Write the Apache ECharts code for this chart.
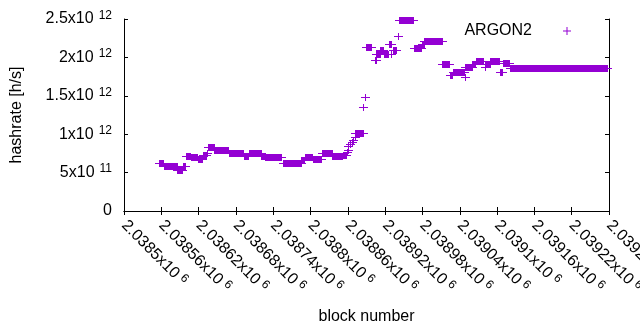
<!DOCTYPE html>
<html>
<head>
<meta charset="utf-8">
<script src="https://cdn.jsdelivr.net/npm/echarts@6/dist/echarts.min.js"></script>
<style>
  html, body { margin: 0; padding: 0; background: #fff; }
  #chart { width: 640px; height: 330px; }
</style>
</head>
<body>
<div id="chart"></div>
<script>
// 数据：每一段是连续区块里同一个算力值（图上看起来是一条粗条）
var runStart = [
  2038557, 2038564, 2038586, 2038595, 2038599, 2038607, 2038619, 2038627, 2038633, 2038635,
  2038645, 2038669, 2038693, 2038701, 2038721, 2038727, 2038755, 2038785, 2038791, 2038804,
  2038818, 2038835, 2038852, 2038858, 2038860, 2038861, 2038864, 2038866, 2038868, 2038871,
  2038872, 2038885, 2038887, 2038889, 2038903, 2038906, 2038912, 2038918, 2038926, 2038930,
  2038932, 2038941, 2038943, 2038966, 2038979, 2038983, 2039012, 2039024, 2039029, 2039048,
  2039049, 2039060, 2039066, 2039080, 2039081, 2039089, 2039104, 2039109, 2039120
];
var runEnd = [
  2038563, 2038585, 2038594, 2038598, 2038606, 2038618, 2038626, 2038632, 2038633, 2038644,
  2038668, 2038692, 2038700, 2038720, 2038726, 2038753, 2038784, 2038790, 2038803, 2038817,
  2038834, 2038851, 2038857, 2038858, 2038860, 2038861, 2038864, 2038866, 2038868, 2038871,
  2038884, 2038885, 2038887, 2038898, 2038905, 2038911, 2038917, 2038924, 2038929, 2038930,
  2038938, 2038941, 2038964, 2038977, 2038982, 2039011, 2039022, 2039028, 2039047, 2039048,
  2039059, 2039065, 2039077, 2039080, 2039088, 2039103, 2039108, 2039119, 2039276
];
var runValue = [
  0.62e12, 0.58e12, 0.54e12, 0.58e12, 0.715e12, 0.70e12, 0.675e12, 0.73e12, 0.75e12, 0.83e12,
  0.79e12, 0.76e12, 0.72e12, 0.76e12, 0.72e12, 0.70e12, 0.63e12, 0.66e12, 0.70e12, 0.68e12,
  0.75e12, 0.715e12, 0.73e12, 0.77e12, 0.80e12, 0.84e12, 0.87e12, 0.90e12, 0.92e12, 0.97e12,
  1.02e12, 1.36e12, 1.49e12, 2.13e12, 1.96e12, 2.05e12, 2.10e12, 2.05e12, 2.18e12, 2.04e12,
  2.09e12, 2.28e12, 2.49e12, 2.12e12, 2.17e12, 2.21e12, 1.92e12, 1.77e12, 1.81e12, 1.74e12,
  1.87e12, 1.92e12, 1.95e12, 1.88e12, 1.92e12, 1.95e12, 1.81e12, 1.93e12, 1.865e12
];

// 刻度文字
var xTickBase = ['2.0385', '2.03856', '2.03862', '2.03868', '2.03874', '2.0388', '2.03886',
  '2.03892', '2.03898', '2.03904', '2.0391', '2.03916', '2.03922', '2.03928'];
var xTickExp = '6';
var yTickBase = ['0', '5x10', '1x10', '1.5x10', '2x10', '2.5x10'];
var yTickExp = ['', '11', '12', '12', '12', '12'];

var xMin = 2038500, xMax = 2039280, xStep = 60;
var yMin = 0, yMax = 2.5e12, yStep = 5e11;
var purple = '#9400d3';
var font = 'Liberation Sans, Arial, sans-serif';

var richX = {
  a: { fontSize: 16, fontFamily: font, color: '#000', lineHeight: 19 },
  s: { fontSize: 12, fontFamily: font, color: '#000', lineHeight: 12, verticalAlign: 'top', padding: [0, 0, 0, 4] }
};
var richY = {
  a: { fontSize: 16, fontFamily: font, color: '#000', lineHeight: 19 },
  s: { fontSize: 12, fontFamily: font, color: '#000', lineHeight: 12, verticalAlign: 'top', padding: [0, 0, 0, 5] }
};

var runs = runStart.map(function (s, i) { return [s, runEnd[i], runValue[i]]; });

// 一段连续的 + 号叠在一起：竖线连成块，横线两头伸出去
function renderRun(params, api) {
  var v = api.value(2);
  var p0 = api.coord([api.value(0), v]);
  var p1 = api.coord([api.value(1), v]);
  var x0 = Math.round(p0[0]), x1 = Math.round(p1[0]), y = Math.round(p0[1]);
  var color = api.visual('color');
  return {
    type: 'group',
    children: [
      { type: 'rect', shape: { x: x0, y: y - 3, width: x1 - x0 + 1, height: 7 }, style: { fill: color } },
      { type: 'rect', shape: { x: x0 - 4, y: y, width: x1 - x0 + 9, height: 1 }, style: { fill: color } }
    ]
  };
}

var tickStyle = { show: true, inside: true, length: 4, lineStyle: { color: '#000', width: 1 } };
var lineStyle = { show: true, lineStyle: { color: '#000', width: 1 } };

var chart = echarts.init(document.getElementById('chart'), null, { renderer: 'canvas' });
var option = {
  animation: false,
  backgroundColor: '#fff',
  grid: { left: 124, top: 19, right: 31, bottom: 119, containLabel: false, outerBoundsMode: 'none' },
  legend: {
    right: 69, top: 23, padding: 0,
    align: 'right',
    itemWidth: 8, itemHeight: 8,
    textStyle: { fontSize: 16, fontFamily: font, color: '#000', padding: [0, 26, 0, 0] },
    data: [{ name: 'ARGON2', icon: 'path://M0,3.5H8V4.5H0Z M3.5,0H4.5V8H3.5Z' }]
  },
  xAxis: [{
    type: 'value', position: 'bottom', min: xMin, max: xMax, interval: xStep,
    axisLine: lineStyle, axisTick: tickStyle, splitLine: { show: false },
    name: 'block number', nameLocation: 'middle', nameGap: 98,
    nameTextStyle: { fontSize: 16, fontFamily: font, color: '#000' },
    axisLabel: {
      rotate: -45, margin: 12, hideOverlap: false,
      formatter: function (val) {
        var i = Math.round((val - xMin) / xStep);
        return '{a|' + xTickBase[i] + 'x10}{s|' + xTickExp + '}';
      },
      rich: richX
    }
  }, {
    type: 'value', position: 'top', min: xMin, max: xMax, interval: xStep,
    axisLine: lineStyle, axisTick: tickStyle, splitLine: { show: false },
    axisLabel: { show: false }
  }],
  yAxis: [{
    type: 'value', position: 'left', min: yMin, max: yMax, interval: yStep,
    axisLine: lineStyle, axisTick: tickStyle, splitLine: { show: false },
    name: 'hashrate [h/s]', nameLocation: 'middle', nameGap: 99, nameRotate: 90,
    nameTextStyle: { fontSize: 16, fontFamily: font, color: '#000' },
    axisLabel: {
      margin: 12,
      formatter: function (val) {
        var i = Math.round((val - yMin) / yStep);
        if (!yTickExp[i]) return '{a|' + yTickBase[i] + '}';
        return '{a|' + yTickBase[i] + '}{s|' + yTickExp[i] + '}';
      },
      rich: richY
    }
  }, {
    type: 'value', position: 'right', min: yMin, max: yMax, interval: yStep,
    axisLine: lineStyle, axisTick: tickStyle, splitLine: { show: false },
    axisLabel: { show: false }
  }],
  series: [{
    name: 'ARGON2',
    type: 'custom',
    xAxisIndex: 0, yAxisIndex: 0,
    color: purple,
    renderItem: renderRun,
    encode: { x: [0, 1], y: 2 },
    data: runs
  }]
};
chart.setOption(option);
</script>
</body>
</html>
